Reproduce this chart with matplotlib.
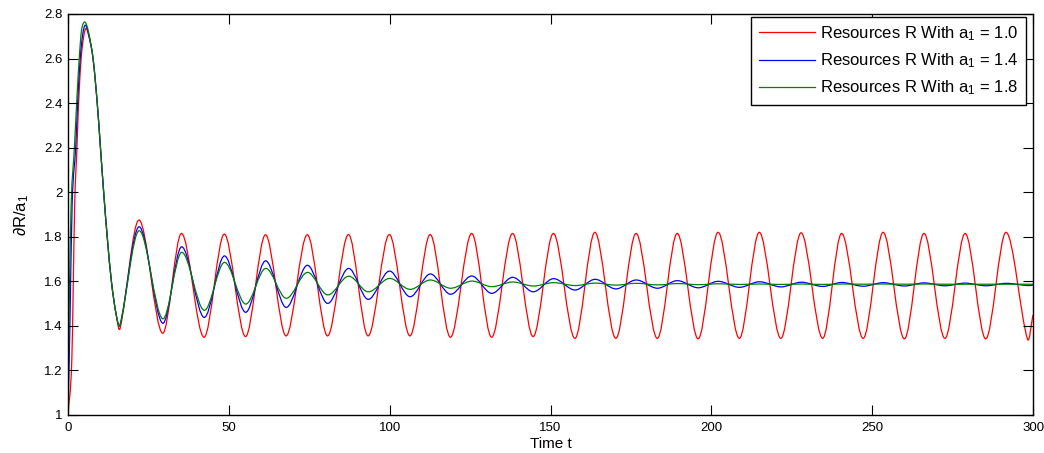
#!/usr/bin/env python3
"""Resources R response for three values of a1 (MATLAB-style line plot)."""
import matplotlib

matplotlib.use("Agg")
import matplotlib.pyplot as plt
import numpy as np
from matplotlib.lines import Line2D
from matplotlib.patches import PathPatch
from matplotlib.path import Path

# start-up transient (t, value)
RED_T0 = [0, 1.2, 2.1, 2.8, 3.3, 4.1, 4.9, 5.6, 6.5, 7.8, 9.1, 10.1, 11.1, 12.2, 13.5, 15.0]
RED_V0 = [1.0, 1.25, 1.95, 2.2, 2.4, 2.6, 2.70, 2.735, 2.70, 2.6, 2.4, 2.2, 2.0, 1.8, 1.6, 1.45]

BLUE_T0 = [0, 0.6, 1.3, 2.4, 3.0, 3.8, 4.6, 5.4, 6.4, 7.8, 9.1, 10.1, 11.1, 12.2, 13.5, 15.0]
BLUE_V0 = [1.0, 1.4, 1.95, 2.2, 2.4, 2.6, 2.71, 2.750, 2.71, 2.6, 2.4, 2.2, 2.0, 1.8, 1.6, 1.45]

GREEN_T0 = [0, 0.4, 1.0, 2.0, 2.7, 3.5, 4.2, 5.2, 6.3, 7.8, 9.1, 10.1, 11.1, 12.2, 13.5, 15.0]
GREEN_V0 = [1.0, 1.5, 1.95, 2.2, 2.4, 2.6, 2.725, 2.764, 2.725, 2.6, 2.4, 2.2, 2.0, 1.8, 1.6, 1.45]

# times of the troughs / peaks of the oscillation (alternating), then the end point
T_EXT = [16.2, 22.1, 29.4, 35.3, 42.3, 48.6, 55.2, 61.4, 67.8, 74.4, 80.7, 87.2,
         93.3, 99.9, 106.3, 112.6, 118.9, 125.5, 131.7, 138.2, 144.6, 150.9,
         157.6, 163.8, 170.3, 176.6, 183.2, 189.4, 195.9, 202.1, 208.7, 214.9,
         221.6, 227.9, 234.6, 240.5, 247.2, 253.4, 260.0, 266.1, 272.6, 278.9,
         285.3, 291.6, 298.3, 300.0]

RED_EXT = [1.389, 1.875, 1.367, 1.815, 1.349, 1.812, 1.352, 1.809, 1.355, 1.809,
           1.355, 1.810, 1.355, 1.810, 1.355, 1.810, 1.349, 1.815, 1.349, 1.815,
           1.352, 1.815, 1.344, 1.820, 1.344, 1.815, 1.344, 1.815, 1.342, 1.820,
           1.344, 1.820, 1.344, 1.818, 1.344, 1.815, 1.344, 1.820, 1.342, 1.815,
           1.344, 1.815, 1.342, 1.820, 1.340, 1.450]

BLUE_EXT = [1.405, 1.845, 1.412, 1.755, 1.438, 1.714, 1.461, 1.692, 1.483, 1.672,
            1.501, 1.658, 1.519, 1.646, 1.531, 1.633, 1.542, 1.624, 1.546, 1.618,
            1.553, 1.612, 1.561, 1.609, 1.566, 1.606, 1.569, 1.603, 1.571, 1.600,
            1.573, 1.598, 1.575, 1.596, 1.577, 1.595, 1.578, 1.594, 1.579, 1.593,
            1.580, 1.592, 1.580, 1.591, 1.581, 1.583]

GREEN_EXT = [1.405, 1.827, 1.432, 1.730, 1.470, 1.685, 1.498, 1.658, 1.524, 1.640,
             1.539, 1.623, 1.553, 1.613, 1.564, 1.606, 1.569, 1.601, 1.576, 1.597,
             1.579, 1.594, 1.581, 1.592, 1.583, 1.591, 1.584, 1.590, 1.585, 1.589,
             1.586, 1.588, 1.586, 1.588, 1.586, 1.588, 1.587, 1.588, 1.587, 1.588,
             1.587, 1.587, 1.587, 1.587, 1.587, 1.587]

LABELS = [
    r"Resources R With a$_\mathrm{1}$ = 1.0",
    r"Resources R With a$_\mathrm{1}$ = 1.4",
    r"Resources R With a$_\mathrm{1}$ = 1.8",
]
COLORS = ["#ff0000", "#0000ff", "#008000"]
X_TICKS = [0, 50, 100, 150, 200, 250, 300]
Y_TICKS = [1, 1.2, 1.4, 1.6, 1.8, 2, 2.2, 2.4, 2.6, 2.8]
Y_TICK_LABELS = ["1", "1.2", "1.4", "1.6", "1.8", "2", "2.2", "2.4", "2.6", "2.8"]


def smooth_path(t, v):
    """Cubic Bezier path through the read points (Hermite tangents)."""
    t = np.asarray(t, float)
    v = np.asarray(v, float)
    m = np.zeros_like(v)
    m[1:-1] = (v[2:] - v[:-2]) / (t[2:] - t[:-2])
    m[0] = (v[1] - v[0]) / (t[1] - t[0])
    m[-1] = (v[-1] - v[-2]) / (t[-1] - t[-2])
    verts = [(t[0], v[0])]
    codes = [Path.MOVETO]
    for i in range(len(t) - 1):
        h = (t[i + 1] - t[i]) / 3
        verts += [(t[i] + h, v[i] + m[i] * h),
                  (t[i + 1] - h, v[i + 1] - m[i + 1] * h),
                  (t[i + 1], v[i + 1])]
        codes += [Path.CURVE4] * 3
    return Path(verts, codes)


def main() -> None:
    plt.rcParams["font.family"] = ["Liberation Sans", "DejaVu Sans"]
    plt.rcParams["mathtext.fontset"] = "custom"
    plt.rcParams["mathtext.rm"] = "Liberation Sans"
    plt.rcParams["mathtext.it"] = "Liberation Sans:italic"

    fig = plt.figure(figsize=(10.44, 4.53), dpi=100)
    ax = fig.add_axes([0.0651, 0.0839, 0.9244, 0.8852])

    series = [(RED_T0, RED_V0, RED_EXT), (BLUE_T0, BLUE_V0, BLUE_EXT),
              (GREEN_T0, GREEN_V0, GREEN_EXT)]
    handles = []
    for (t0, v0, ext), color, label in zip(series, COLORS, LABELS):
        path = smooth_path(np.concatenate([t0, T_EXT]), np.concatenate([v0, ext]))
        ax.add_patch(PathPatch(path, facecolor="none", edgecolor=color,
                               linewidth=0.9, transform=ax.transData))
        handles.append(Line2D([], [], color=color, linewidth=0.9, label=label))

    ax.set_xlim(0, 300)
    ax.set_ylim(1, 2.8)
    ax.set_xticks(X_TICKS)
    ax.set_yticks(Y_TICKS)
    ax.set_yticklabels(Y_TICK_LABELS)
    ax.tick_params(axis="both", direction="in", length=7, width=0.8,
                   labelsize=9.5, top=True, right=True, colors="black")
    ax.tick_params(axis="y", pad=4)
    ax.tick_params(axis="x", pad=5)
    for spine in ax.spines.values():
        spine.set_linewidth(1.0)
        spine.set_color("black")

    ax.set_xlabel("Time t", fontsize=11, labelpad=2)
    ax.set_ylabel(r"∂R/a$_\mathrm{1}$", fontsize=12, labelpad=9)

    leg = ax.legend(handles=handles, loc="upper right",
                    bbox_to_anchor=(0.993, 0.993), borderaxespad=0,
                    fontsize=12, fancybox=False, framealpha=1,
                    edgecolor="black", handlelength=3.4, handletextpad=0.3,
                    labelspacing=0.5, borderpad=0.45)
    leg.get_frame().set_linewidth(1.0)

    fig.savefig("out.png", dpi=100)
    plt.close(fig)


if __name__ == "__main__":
    main()
